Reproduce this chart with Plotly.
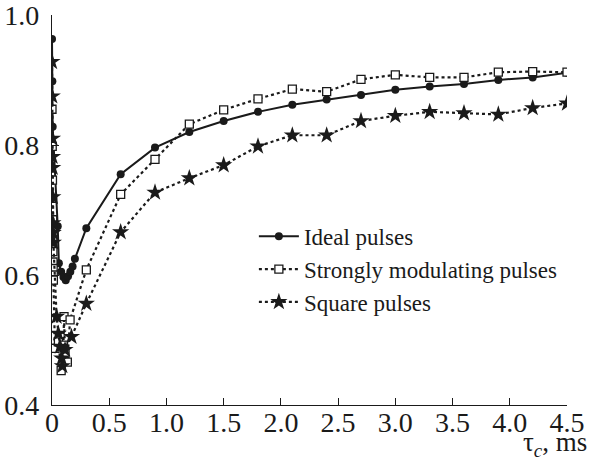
import plotly.graph_objects as go

ideal_x = [0, 0.003, 0.006, 0.05, 0.06, 0.08, 0.10, 0.12, 0.14, 0.16, 0.18, 0.2, 0.3,
           0.6, 0.9, 1.2, 1.5, 1.8, 2.1, 2.4, 2.7, 3.0, 3.3, 3.6, 3.9, 4.2, 4.5]
ideal_y = [0.963, 0.898, 0.828, 0.675, 0.618, 0.605, 0.597, 0.592, 0.598, 0.605, 0.613, 0.625, 0.672,
           0.755, 0.796, 0.820, 0.837, 0.851, 0.862, 0.870, 0.877, 0.885, 0.890, 0.894, 0.900, 0.904, 0.911]

strong_x = [0, 0.002, 0.004, 0.005, 0.006, 0.007, 0.008, 0.009, 0.010, 0.011, 0.012,
            0.026, 0.056, 0.08, 0.10, 0.105, 0.114, 0.134, 0.158, 0.3,
            0.6, 0.9, 1.2, 1.5, 1.8, 2.1, 2.4, 2.7, 3.0, 3.3, 3.6, 3.9, 4.2, 4.5]
strong_y = [0.855, 0.798, 0.746, 0.718, 0.685, 0.651, 0.636, 0.620, 0.610, 0.600, 0.592,
            0.487, 0.497, 0.453, 0.492, 0.536, 0.479, 0.466, 0.531, 0.608,
            0.724, 0.778, 0.832, 0.854, 0.871, 0.886, 0.882, 0.901, 0.908, 0.904, 0.904, 0.912, 0.913, 0.912]

square_x = [0, 0.002, 0.004, 0.005, 0.006, 0.007, 0.008, 0.010, 0.012,
            0.04, 0.055, 0.07, 0.085, 0.09, 0.114, 0.17, 0.3,
            0.6, 0.9, 1.2, 1.5, 1.8, 2.1, 2.4, 2.7, 3.0, 3.3, 3.6, 3.9, 4.2, 4.5]
square_y = [0.928, 0.875, 0.810, 0.782, 0.765, 0.720, 0.680, 0.665, 0.650,
            0.536, 0.510, 0.490, 0.472, 0.460, 0.485, 0.505, 0.556,
            0.666, 0.727, 0.749, 0.769, 0.798, 0.815, 0.815, 0.837, 0.845, 0.851, 0.849, 0.847, 0.857, 0.864]

x_tickvals = [0, 0.5, 1.0, 1.5, 2.0, 2.5, 3.0, 3.5, 4.0, 4.5]
x_ticktext = ["0", "0.5", "1.0", "1.5", "2.0", "2.5", "3.0", "3.5", "4.0", "4.5"]
y_tickvals = [0.4, 0.6, 0.8, 1.0]
y_ticktext = ["0.4", "0.6", "0.8", "1.0"]

FONT = "Liberation Serif"
INK = "#1a1a1a"

fig = go.Figure()
fig.add_trace(go.Scatter(
    x=ideal_x, y=ideal_y, mode="lines+markers", name="Ideal pulses",
    line=dict(color=INK, width=2),
    marker=dict(symbol="circle", size=8, color=INK),
))
fig.add_trace(go.Scatter(
    x=strong_x, y=strong_y, mode="lines+markers", name="Strongly modulating pulses",
    line=dict(color=INK, width=2.2, dash="dot"),
    marker=dict(symbol="square", size=8, color="white", line=dict(color=INK, width=1.3)),
))
fig.add_trace(go.Scatter(
    x=square_x, y=square_y, mode="lines+markers", name="Square pulses",
    line=dict(color=INK, width=2.2, dash="dot"),
    marker=dict(symbol="star", size=13, color=INK),
))

fig.update_layout(
    width=589, height=462,
    margin=dict(l=52, r=22, t=15, b=57),
    paper_bgcolor="white", plot_bgcolor="white",
    font=dict(family=FONT, color=INK, size=23),
    showlegend=True,
    legend=dict(
        x=0.392, y=0.488, xanchor="left", yanchor="top",
        bgcolor="rgba(0,0,0,0)", font=dict(family=FONT, size=23, color=INK),
        tracegroupgap=0, itemwidth=40,
    ),
    xaxis=dict(
        range=[0, 4.5], tickvals=x_tickvals, ticktext=x_ticktext, automargin=False,
        showgrid=False, zeroline=False, showline=True, linecolor=INK, linewidth=1.3,
        ticks="inside", ticklen=7, tickcolor=INK, tickwidth=1.2, ticklabeloverflow="allow",
        ticklabelstandoff=-8,
        tickfont=dict(family=FONT, size=28, color=INK),
    ),
    yaxis=dict(
        range=[0.4, 1.0], tickvals=y_tickvals, ticktext=y_ticktext, automargin=False,
        showgrid=False, zeroline=False, showline=True, linecolor=INK, linewidth=1.3,
        ticks="inside", ticklen=7, tickcolor=INK, tickwidth=1.2, ticklabelstandoff=6,
        ticklabeloverflow="allow",
        tickfont=dict(family=FONT, size=28, color=INK),
    ),
    annotations=[dict(
        text="τ<sub><i>c</i></sub>, ms", x=1.0, y=0, xref="paper", yref="paper",
        xanchor="right", yanchor="top", yshift=-21, xshift=21, showarrow=False,
        borderpad=0, font=dict(family=FONT, size=27, color=INK),
    )],
)

fig.write_html("out.html", config={"displayModeBar": False},
               post_script="document.body.style.margin='0';")
